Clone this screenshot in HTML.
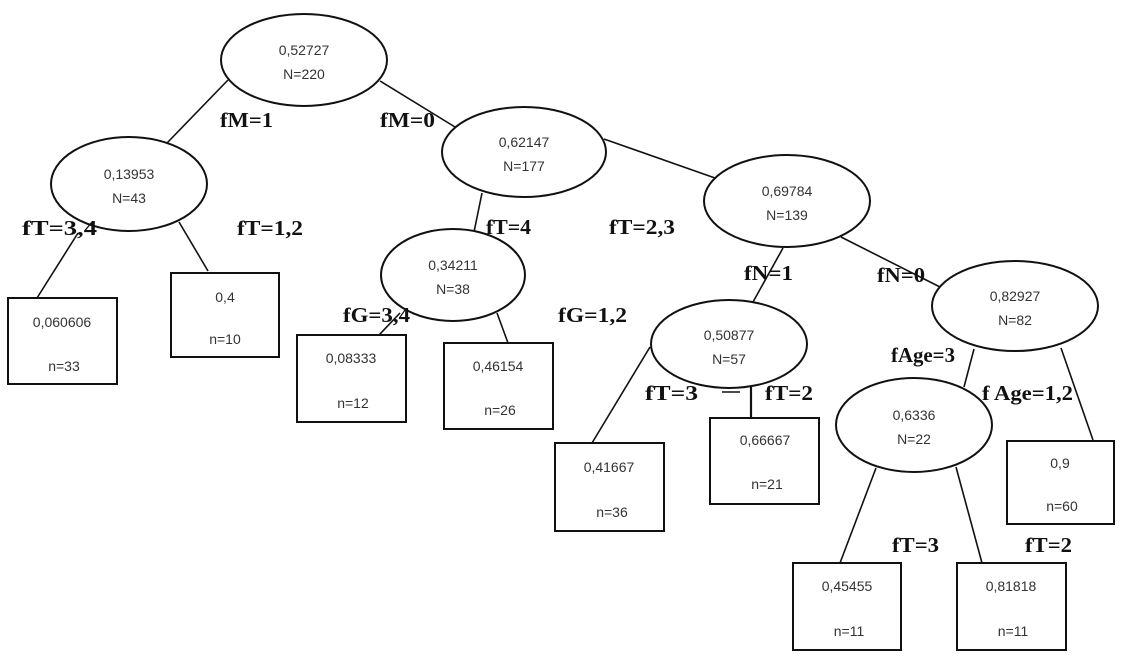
<!DOCTYPE html>
<html><head><meta charset="utf-8"><style>
html,body{margin:0;padding:0;background:#fff;}
svg{display:block;}
.n{font-family:"Liberation Sans",sans-serif;font-size:14px;fill:#333;text-anchor:middle;}
.l{font-family:"Liberation Serif",serif;font-size:21px;font-weight:bold;fill:#111;}
</style></head><body>
<svg width="1127" height="659" viewBox="0 0 1127 659" xmlns="http://www.w3.org/2000/svg">
<g stroke="#111" stroke-width="1.6" fill="none">
<line x1="228" y1="80" x2="167" y2="143"/>
<line x1="380" y1="81" x2="455" y2="127"/>
<line x1="78" y1="233" x2="37" y2="298"/>
<line x1="179" y1="222" x2="208" y2="271"/>
<line x1="482" y1="193" x2="474" y2="232"/>
<line x1="604" y1="139" x2="715" y2="178"/>
<line x1="400" y1="313" x2="379" y2="335"/>
<line x1="497" y1="313" x2="508" y2="343"/>
<line x1="783" y1="248" x2="753" y2="302"/>
<line x1="841" y1="237" x2="940" y2="287"/>
<line x1="650" y1="347" x2="592" y2="443"/>
<line x1="751" y1="382" x2="751" y2="418" stroke-width="2.2"/>
<line x1="722" y1="392" x2="740" y2="392"/>
<line x1="974" y1="349" x2="964" y2="387"/>
<line x1="1061" y1="348" x2="1093" y2="440"/>
<line x1="876" y1="468" x2="840" y2="563"/>
<line x1="956" y1="467" x2="982" y2="563"/>
</g>
<g stroke="#111" stroke-width="2" fill="#fff">
<ellipse cx="304" cy="60" rx="83" ry="46"/>
<ellipse cx="129" cy="184" rx="78" ry="47"/>
<ellipse cx="524" cy="152" rx="82" ry="45"/>
<ellipse cx="453" cy="275" rx="72" ry="46"/>
<ellipse cx="787" cy="201" rx="83" ry="46"/>
<ellipse cx="729" cy="344" rx="78" ry="44"/>
<ellipse cx="1015" cy="306" rx="83" ry="45"/>
<ellipse cx="914" cy="425" rx="78" ry="47"/>
<rect x="8" y="298" width="109" height="86"/>
<rect x="171" y="273" width="108" height="84"/>
<rect x="297" y="335" width="109" height="87"/>
<rect x="444" y="343" width="109" height="86"/>
<rect x="555" y="443" width="109" height="88"/>
<rect x="710" y="418" width="109" height="86"/>
<rect x="1007" y="441" width="107" height="83"/>
<rect x="793" y="563" width="108" height="87"/>
<rect x="957" y="563" width="109" height="87"/>
</g>
<g class="n">
<text x="304" y="55">0,52727</text><text x="304" y="79">N=220</text>
<text x="129" y="179">0,13953</text><text x="129" y="203">N=43</text>
<text x="524" y="147">0,62147</text><text x="524" y="171">N=177</text>
<text x="453" y="270">0,34211</text><text x="453" y="294">N=38</text>
<text x="787" y="196">0,69784</text><text x="787" y="220">N=139</text>
<text x="729" y="340">0,50877</text><text x="729" y="364">N=57</text>
<text x="1015" y="301">0,82927</text><text x="1015" y="325">N=82</text>
<text x="914" y="420">0,6336</text><text x="914" y="444">N=22</text>
<text x="62" y="327">0,060606</text><text x="64" y="371">n=33</text>
<text x="225" y="302">0,4</text><text x="225" y="344">n=10</text>
<text x="351" y="363">0,08333</text><text x="353" y="408">n=12</text>
<text x="498" y="371">0,46154</text><text x="500" y="415">n=26</text>
<text x="609" y="472">0,41667</text><text x="612" y="517">n=36</text>
<text x="765" y="445">0,66667</text><text x="767" y="489">n=21</text>
<text x="1060" y="468">0,9</text><text x="1062" y="511">n=60</text>
<text x="847" y="591">0,45455</text><text x="849" y="636">n=11</text>
<text x="1011" y="591">0,81818</text><text x="1013" y="636">n=11</text>
</g>
<g class="l">
<text x="220" y="127" textLength="53" lengthAdjust="spacingAndGlyphs">fM=1</text>
<text x="380" y="127" textLength="55" lengthAdjust="spacingAndGlyphs">fM=0</text>
<text x="22" y="235" textLength="75" lengthAdjust="spacingAndGlyphs">fT=3,4</text>
<text x="237" y="235" textLength="66" lengthAdjust="spacingAndGlyphs">fT=1,2</text>
<text x="486" y="234" textLength="45" lengthAdjust="spacingAndGlyphs">fT=4</text>
<text x="609" y="234" textLength="66" lengthAdjust="spacingAndGlyphs">fT=2,3</text>
<text x="343" y="322" textLength="67" lengthAdjust="spacingAndGlyphs">fG=3,4</text>
<text x="558" y="322" textLength="69" lengthAdjust="spacingAndGlyphs">fG=1,2</text>
<text x="744" y="280" textLength="49" lengthAdjust="spacingAndGlyphs">fN=1</text>
<text x="877" y="282" textLength="48" lengthAdjust="spacingAndGlyphs">fN=0</text>
<text x="891" y="362" textLength="64" lengthAdjust="spacingAndGlyphs">fAge=3</text>
<text x="982" y="400" textLength="91" lengthAdjust="spacingAndGlyphs">f  Age=1,2</text>
<text x="645" y="400" textLength="53" lengthAdjust="spacingAndGlyphs">fT=3</text>
<text x="765" y="400" textLength="48" lengthAdjust="spacingAndGlyphs">fT=2</text>
<text x="892" y="552" textLength="47" lengthAdjust="spacingAndGlyphs">fT=3</text>
<text x="1025" y="552" textLength="47" lengthAdjust="spacingAndGlyphs">fT=2</text>
</g>
</svg>
</body></html>
